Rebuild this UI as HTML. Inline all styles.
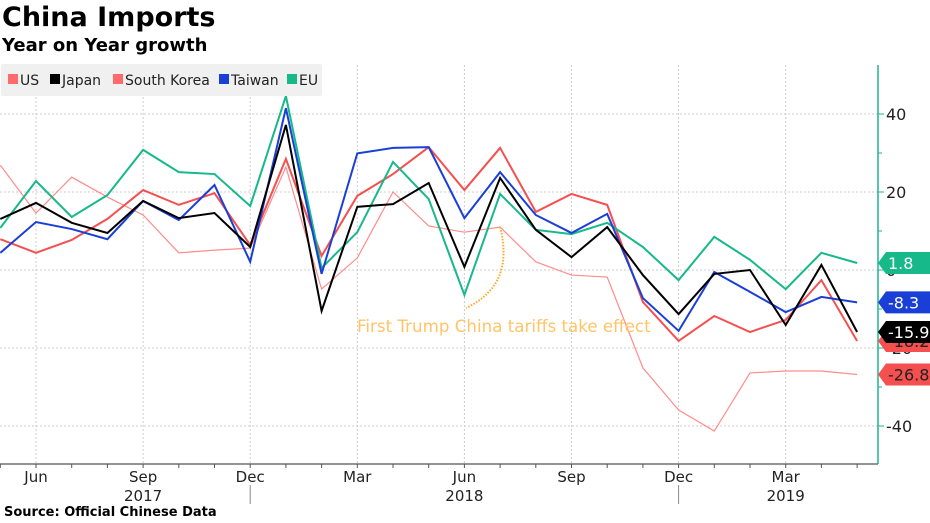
<!DOCTYPE html>
<html><head><meta charset="utf-8">
<style>
body{margin:0;background:#fff;width:930px;height:523px;overflow:hidden;font-family:"DejaVu Sans","Liberation Sans",sans-serif;}
#t{position:absolute;left:2px;top:2px;font-size:27px;font-weight:bold;color:#000;}
#st{position:absolute;left:2px;top:35px;font-size:18px;font-weight:bold;color:#000;}
#src{position:absolute;left:4px;top:505px;font-size:13px;font-weight:bold;}
</style></head><body>
<div id="t">China Imports</div>
<div id="st">Year on Year growth</div>
<div id="src">Source: Official Chinese Data</div>
<svg id="c" width="930" height="523" style="position:absolute;left:0;top:0"></svg>
<script>
const months=["May17","Jun","Jul","Aug","Sep","Oct","Nov","Dec","Jan18","Feb","Mar","Apr","May","Jun","Jul","Aug","Sep","Oct","Nov","Dec","Jan19","Feb","Mar","Apr","May"];
const usVals=[26.9,14.6,23.8,18.7,14.1,4.4,5.1,5.6,26.4,-4.9,3.1,20.0,11.3,9.7,11.0,2.1,-1.3,-1.8,-25.1,-35.9,-41.3,-26.4,-25.9,-25.9,-26.8];
const japanVals=[13.1,17.2,12.1,9.5,17.7,13.3,14.6,5.9,37.2,-10.5,16.2,16.9,22.3,0.8,23.6,10.3,3.3,11.0,-1.3,-11.3,-1.0,0,-14.1,1.3,-15.9];
const koreaVals=[7.9,4.4,7.7,13.1,20.5,16.7,19.7,6.4,28.5,3.6,19.0,24.6,31.5,20.5,31.3,14.9,19.5,16.7,-8.2,-18.2,-11.8,-15.9,-12.8,-2.6,-18.2];
const taiwanVals=[4.4,12.3,10.5,7.9,17.7,12.8,21.8,2.1,41.5,-1.0,29.9,31.3,31.5,13.3,25.1,14.1,9.5,14.4,-7.2,-15.6,-0.5,-5.6,-10.8,-6.9,-8.3];
const euVals=[10.8,22.8,13.6,19.2,30.8,25.1,24.6,16.4,44.6,0.5,9.7,27.7,18.2,-6.4,19.5,10.3,9.2,12.1,5.9,-2.6,8.5,2.6,-4.9,4.4,1.8];
const yTicks=[40,20,0,-20,-40];
const monthLabels=[[1,"Jun"],[4,"Sep"],[7,"Dec"],[10,"Mar"],[13,"Jun"],[16,"Sep"],[19,"Dec"],[22,"Mar"]];
const yearLabels=[[4,"2017"],[13,"2018"],[22,"2019"]];

const svg=document.getElementById('c');const NS='http://www.w3.org/2000/svg';
const X=i=>0.3+i*35.7;const Y=v=>270-v*3.9;
function mk(tag,a,p){const e=document.createElementNS(NS,tag);for(const k in a)e.setAttribute(k,a[k]);(p||svg).appendChild(e);return e;}
for(let i=1;i<25;i+=3){const g=mk('line',{x1:X(i),x2:X(i),y1:65,y2:464,stroke:'#ccc','stroke-dasharray':'2,2'});

}
yTicks.forEach(v=>{const g=mk('line',{x1:0,x2:878,y1:Y(v),y2:Y(v),stroke:'#ccc','stroke-dasharray':'2,2'});


const tk=mk('line',{x1:878,x2:884,y1:Y(v),y2:Y(v),stroke:'#1fb58a'});


const t=mk('text',{x:886,y:Y(v)+6,'font-size':16,fill:'#222'});t.textContent=v;

});
for(let v=30;v>-50;v-=20){const tk=mk('line',{x1:878,x2:882,y1:Y(v),y2:Y(v),stroke:'#1fb58a'});

}
const ax=mk('line',{x1:0,x2:878,y1:464,y2:464,stroke:'#555','stroke-width':1.2});


const ay=mk('line',{x1:878,x2:878,y1:65,y2:464,stroke:'#1fb58a','stroke-width':1.5});


for(let i=0;i<25;i++){const tk=mk('line',{x1:X(i),x2:X(i),y1:464,y2:468,stroke:'#555'});

}
monthLabels.forEach(([i,l])=>{const t=mk('text',{x:X(i),y:482,'font-size':15,'text-anchor':'middle',fill:'#222'});t.textContent=l;

});
yearLabels.forEach(([i,l])=>{const t=mk('text',{x:X(i),y:501,'font-size':15,'text-anchor':'middle',fill:'#222'});t.textContent=l;

});
[7,19].forEach(i=>{const s=mk('line',{x1:X(i),x2:X(i),y1:485,y2:504,stroke:'#888'});

});
const series=[["us-line",usVals,'#ff8c8c',1.2],["south-korea-line",koreaVals,'#f5504f',2],["eu-line",euVals,'#17b88a',2],["taiwan-line",taiwanVals,'#1a3fd6',2],["japan-line",japanVals,'#000',2]];
series.forEach(([n,vals,c,w])=>{const p=mk('polyline',{points:vals.map((v,i)=>X(i)+','+Y(v)).join(' '),fill:'none',stroke:c,'stroke-width':w,'stroke-linejoin':'miter'});

});
const an=mk('path',{d:`M${X(14)},${Y(11)} Q515,285 466,308`,fill:'none',stroke:'#ffa826','stroke-width':2,'stroke-dasharray':'1.5,1.5'});


const at=mk('text',{x:357,y:332,'font-size':16.7,fill:'#ffc466'});at.textContent='First Trump China tariffs take effect';


const tags=[[koreaVals[24],'#f5504f','#222','-18.2',"south-korea-tag"],[usVals[24],'#f5504f','#222','-26.8',"us-tag"],[euVals[24],'#17b88a','#fff','1.8',"eu-tag"],[taiwanVals[24],'#1a3fd6','#fff','-8.3',"taiwan-tag"],[japanVals[24],'#000','#fff','-15.9',"japan-tag"]];
tags.forEach(([v,bg,fg,l,n])=>{const y=Y(v);const g=mk('g',{});


mk('path',{d:`M878,${y} L886,${y-11} L930,${y-11} L930,${y+11} L886,${y+11} Z`,fill:bg},g);
const t=mk('text',{x:888,y:y+6,'font-size':16,fill:fg},g);t.textContent=l;});
const lg=mk('g',{});


mk('rect',{x:1,y:64,width:321,height:32,fill:'#f0f0f0',rx:2},lg);
[[8,'US','#ff6b6b'],[50,'Japan','#000'],[113,'South Korea','#ff6b6b'],[219,'Taiwan','#1a3fd6'],[287,'EU','#17b88a']].forEach(([x,l,c])=>{
const e=mk('g',{},lg);


mk('rect',{x:x,y:74,width:10,height:10,fill:c},e);
const t=mk('text',{x:x+12,y:85,'font-size':14,fill:'#222'},e);t.textContent=l;});
</script>
</body></html>
